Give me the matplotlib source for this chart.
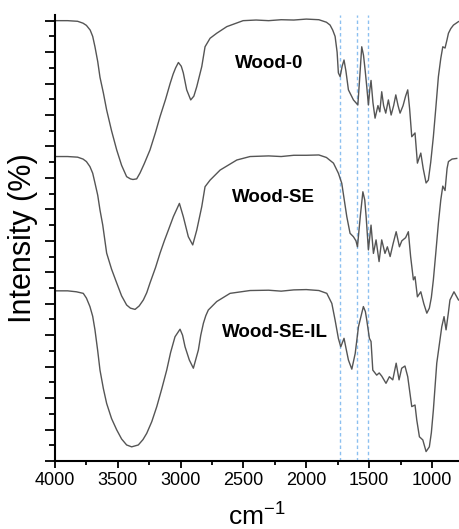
import numpy as np
import matplotlib
matplotlib.use('Agg')
import matplotlib.pyplot as plt

plt.rcParams['font.family'] = ['Liberation Sans', 'DejaVu Sans']
plt.rcParams['mathtext.default'] = 'regular'

# wavenumbers (cm-1) and intensities, one pair per curve
wn_wood0 = [4000, 3900, 3820, 3777, 3750, 3720, 3700, 3682, 3660, 3642, 3615, 3589, 3550, 3509, 3470,
            3430, 3400, 3380, 3350, 3323, 3290, 3244, 3200, 3164, 3120, 3084, 3060, 3040, 3018, 2995,
            2979, 2952, 2920, 2895, 2872, 2832, 2806, 2766, 2713, 2633, 2503,
            2400, 2300, 2200, 2100, 2000, 1900, 1840, 1811, 1790, 1771, 1755, 1745, 1731, 1715, 1700,
            1685, 1665, 1625, 1590, 1575, 1559, 1545, 1532, 1519, 1506, 1495, 1485, 1470, 1453, 1430,
            1415, 1400, 1385, 1368, 1347, 1325, 1305, 1288, 1270, 1254, 1230, 1210, 1193, 1178, 1161,
            1135, 1116, 1089, 1070, 1047, 1029, 1010, 989, 970, 949, 930, 914, 896, 880, 869, 850, 829, 789]
int_wood0 = [14.0, 14.0, 13.98, 13.92, 13.85, 13.7, 13.5, 13.17, 12.7, 12.2, 11.7, 11.16, 10.5, 9.89, 9.4,
             9.04, 8.97, 8.95, 8.97, 9.16, 9.45, 9.89, 10.45, 10.95, 11.5, 12.0, 12.3, 12.5, 12.67, 12.55,
             12.34, 11.8, 11.48, 11.6, 11.9, 12.54, 13.17, 13.44, 13.6, 13.81, 14.0,
             14.02, 14.0, 14.03, 14.02, 14.05, 14.03, 13.95, 13.86, 13.7, 13.5, 13.0, 12.34, 12.22, 12.55, 12.75,
             12.4, 11.8, 11.48, 11.32, 12.2, 13.17, 12.9, 12.43, 11.9, 11.32, 11.8, 12.1, 11.4, 10.9, 11.3,
             11.1, 11.74, 11.3, 11.06, 11.48, 11.0, 11.3, 11.64, 11.3, 11.06, 11.3, 11.6, 11.8, 11.2, 10.31,
             10.43, 9.47, 9.79, 9.3, 8.84, 8.93, 9.5, 10.31, 11.2, 12.22, 12.8, 13.17, 13.13, 13.4, 13.6, 13.75, 13.86, 13.97]

wn_se = [4000, 3900, 3820, 3777, 3750, 3722, 3700, 3682, 3660, 3642, 3620, 3589, 3550, 3509, 3470,
         3430, 3400, 3363, 3330, 3297, 3270, 3244, 3200, 3164, 3130,
         3098, 3058, 3010, 2979, 2939, 2904, 2872, 2832, 2806, 2766, 2686, 2553, 2448, 2300, 2200,
         2100, 2000, 1900, 1840, 1784, 1745, 1718, 1678, 1652, 1625, 1605, 1593, 1570, 1550, 1535,
         1524, 1506, 1485, 1466, 1445, 1421, 1400, 1374, 1355, 1333, 1310, 1285, 1259, 1240, 1210,
         1188, 1170, 1148, 1135, 1116, 1089, 1065, 1041, 1021, 1005, 989, 970, 949, 930, 914,
         896, 880, 869, 840, 803]
int_se = [9.68, 9.68, 9.66, 9.6, 9.52, 9.36, 9.15, 8.84, 8.45, 7.98, 7.5, 6.61, 6.1, 5.66, 5.25,
          4.96, 4.86, 4.82, 4.93, 5.12, 5.35, 5.66, 6.15, 6.61, 7.0,
          7.34, 7.77, 8.19, 7.77, 7.13, 6.87, 7.34, 8.09, 8.72, 8.93, 9.25, 9.57, 9.68, 9.7, 9.68,
          9.72, 9.72, 9.73, 9.65, 9.47, 9.15, 8.83, 7.77, 7.24, 7.13, 7.0, 6.81, 7.8, 8.56, 8.3,
          7.77, 6.71, 7.5, 6.6, 7.03, 6.34, 7.03, 6.6, 6.81, 6.5, 6.9, 7.29, 6.81, 7.0, 7.1,
          7.29, 6.5, 5.76, 5.86, 5.22, 5.38, 5.0, 4.7, 4.86, 5.2, 5.76, 6.6, 7.56, 8.3, 8.74,
          8.6, 9.3, 9.52, 9.6, 9.62]

wn_seil = [4000, 3900, 3830, 3775, 3750, 3722, 3700, 3682, 3660, 3642, 3615, 3589, 3550, 3509, 3470,
           3430, 3390, 3337, 3300, 3270, 3230, 3190, 3150, 3111, 3080,
           3045, 3005, 2985, 2965, 2931, 2899, 2859, 2840, 2819, 2800, 2780, 2713, 2607, 2448, 2300, 2200, 2100,
           2000, 1900, 1837, 1797, 1771, 1745, 1726, 1700, 1685, 1665, 1638, 1611, 1585, 1546, 1530,
           1519, 1498, 1485, 1471, 1440, 1420, 1400, 1366, 1339, 1312, 1285, 1262, 1241, 1215, 1193,
           1161, 1135, 1121, 1100, 1073, 1047, 1021, 1005, 989, 962, 922, 904, 888, 870, 857, 825, 789]
int_seil = [5.41, 5.41, 5.38, 5.33, 5.18, 4.91, 4.6, 4.17, 3.5, 2.89, 2.3, 1.83, 1.35, 0.99, 0.7,
            0.51, 0.45, 0.51, 0.68, 0.88, 1.25, 1.73, 2.3, 2.89, 3.45,
            3.95, 4.19, 4.0, 3.63, 3.21, 2.95, 3.53, 4.0, 4.38, 4.62, 4.8, 5.07, 5.33, 5.42, 5.43, 5.4, 5.44,
            5.45, 5.42, 5.33, 5.01, 4.48, 3.9, 3.63, 3.9, 3.6, 3.21, 2.92, 3.42, 4.27, 4.91, 4.75,
            4.48, 3.9, 3.8, 2.89, 2.73, 2.8, 2.7, 2.47, 2.68, 2.58, 3.11, 2.58, 2.95, 3.02, 2.68,
            1.73, 1.78, 1.3, 0.77, 0.67, 0.3, 0.45, 0.9, 1.62, 3.11, 4.27, 4.59, 4.17, 4.7, 5.12, 5.38, 5.12]

labels = ['Wood-0', 'Wood-SE', 'Wood-SE-IL']
label_pos = [(2293, 12.65), (2265, 8.39), (2253, 4.10)]
marker_lines = [1735, 1595, 1507]

fig = plt.figure(figsize=(4.59, 5.29), dpi=100)
ax = fig.add_axes([55 / 459, 68 / 529, 404 / 459, 446 / 529])

for xv in marker_lines:
    ax.axvline(xv, color='#8cc0f0', linestyle=(0, (2.5, 2)), linewidth=1.0, zorder=0)

for wn, inten in [(wn_wood0, int_wood0), (wn_se, int_se), (wn_seil, int_seil)]:
    wn = np.asarray(wn)
    inten = np.asarray(inten)
    order = np.argsort(wn)[::-1]
    ax.plot(wn[order], inten[order], c='#555555', linewidth=1.0)

for lab, (xt, yt) in zip(labels, label_pos):
    ax.text(xt, yt, lab, ha='center', va='center', fontsize=13.5, fontweight='bold')

ax.set_xlim(4000, 785)
ax.set_ylim(0, 14.18)
ax.set_xticks([4000, 3500, 3000, 2500, 2000, 1500, 1000])
ax.set_xticks(np.arange(3750, 750, -500), minor=True)
ax.set_yticks(np.arange(0, 15, 1))
ax.set_yticks(np.arange(0.5, 14, 1), minor=True)
ax.set_yticklabels([])

for side in ['top', 'right']:
    ax.spines[side].set_visible(False)
for side in ['left', 'bottom']:
    ax.spines[side].set_linewidth(1.5)

ax.tick_params(axis='x', which='major', length=5, width=1.3, labelsize=13, pad=3)
ax.tick_params(axis='x', which='minor', length=3, width=1.3)
ax.tick_params(axis='y', which='major', length=7, width=1.3)
ax.tick_params(axis='y', which='minor', length=4, width=1.3)

ax.set_xlabel(r'cm$^{-1}$', fontsize=19, labelpad=10)
ax.set_ylabel('Intensity (%)', fontsize=22, labelpad=2)

fig.savefig('out.png', dpi=100)
